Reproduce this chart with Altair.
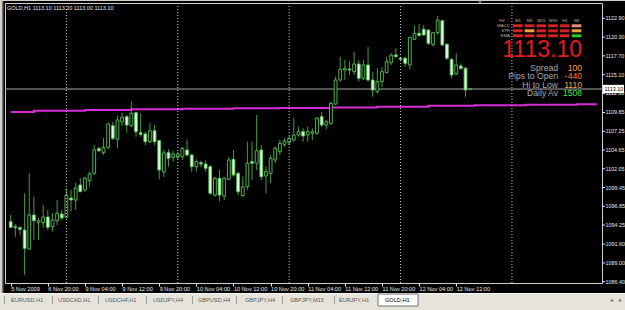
import altair as alt
import pandas as pd

# ---------------- data ----------------
opens = [1094.71, 1094.02, 1093.88, 1093.56, 1090.93, 1095.64, 1094.58, 1094.58, 1095.37, 1094.02,
         1094.85, 1095.78, 1095.33, 1098.00, 1097.72, 1099.80, 1099.11, 1100.40, 1101.42, 1104.83,
         1104.28, 1105.02, 1108.02, 1106.13, 1108.57, 1109.27, 1107.98, 1109.82, 1107.05, 1106.87,
         1105.80, 1107.32, 1105.94, 1101.60, 1104.28, 1103.64, 1103.64, 1103.72, 1104.65, 1103.96,
         1102.34, 1102.89, 1102.71, 1102.34, 1098.41, 1100.73, 1098.27, 1100.59, 1103.36, 1101.42,
         1098.34, 1099.57, 1103.03, 1102.81, 1104.65, 1101.05, 1101.42, 1103.27, 1104.42, 1105.44,
         1105.66, 1106.03, 1106.73, 1107.19, 1106.73, 1106.97, 1106.97, 1109.27, 1108.11, 1108.35,
         1111.02, 1114.35, 1115.74, 1115.87, 1115.50, 1116.57, 1114.58, 1116.43, 1114.35, 1112.73,
         1114.12, 1115.36, 1116.75, 1117.81, 1117.36, 1117.36, 1116.43, 1119.99, 1120.82, 1121.38,
         1121.28, 1119.30, 1120.91, 1122.57, 1119.30, 1117.22, 1115.18, 1116.29, 1115.97, 1113.10]
highs = [1095.64, 1094.39, 1094.12, 1098.65, 1101.42, 1098.18, 1095.23, 1097.03, 1096.34, 1095.92,
         1097.72, 1096.34, 1099.39, 1099.11, 1100.08, 1100.77, 1100.95, 1101.65, 1105.34, 1105.07,
         1106.31, 1108.43, 1108.57, 1109.36, 1109.82, 1109.50, 1111.34, 1109.96, 1109.74, 1107.19,
         1108.43, 1108.11, 1106.03, 1104.65, 1104.75, 1104.55, 1104.42, 1105.02, 1106.13, 1104.10,
         1103.36, 1103.17, 1103.17, 1102.57, 1100.95, 1101.88, 1100.95, 1103.72, 1104.65, 1101.65,
         1100.95, 1105.80, 1105.80, 1109.50, 1105.34, 1102.34, 1103.96, 1105.11, 1106.03, 1106.27,
         1106.59, 1109.04, 1107.88, 1107.66, 1107.88, 1107.66, 1109.27, 1109.96, 1108.81, 1111.34,
         1114.81, 1117.58, 1117.12, 1116.89, 1118.27, 1117.12, 1117.12, 1118.96, 1115.50, 1115.97,
         1116.11, 1117.58, 1118.05, 1118.74, 1117.58, 1117.58, 1120.35, 1121.83, 1122.11, 1121.97,
         1121.38, 1121.05, 1123.22, 1122.66, 1119.44, 1117.36, 1118.05, 1116.66, 1116.19, 1113.20]
lows = [1093.84, 1092.63, 1092.87, 1087.33, 1090.79, 1092.18, 1092.18, 1093.84, 1093.56, 1093.33,
        1094.26, 1094.95, 1095.23, 1096.10, 1096.34, 1098.83, 1098.87, 1099.57, 1101.19, 1104.37,
        1103.96, 1104.75, 1106.03, 1104.89, 1107.98, 1107.05, 1107.88, 1106.49, 1106.49, 1105.34,
        1105.58, 1105.34, 1100.59, 1100.91, 1102.34, 1103.03, 1103.27, 1103.27, 1103.72, 1101.65,
        1101.65, 1102.25, 1101.65, 1098.41, 1098.18, 1097.49, 1097.72, 1100.49, 1100.95, 1098.41,
        1098.18, 1099.11, 1100.49, 1101.88, 1100.49, 1098.65, 1100.04, 1102.81, 1103.96, 1105.11,
        1105.34, 1105.80, 1106.49, 1105.80, 1105.80, 1106.03, 1106.73, 1107.88, 1107.52, 1108.11,
        1110.89, 1114.12, 1114.35, 1115.04, 1115.04, 1114.12, 1114.35, 1114.12, 1112.03, 1112.50,
        1113.42, 1115.28, 1116.43, 1117.47, 1116.98, 1116.19, 1115.83, 1119.89, 1120.35, 1120.45,
        1119.20, 1118.96, 1120.59, 1119.07, 1117.12, 1114.58, 1115.04, 1115.74, 1112.03, 1113.00]
closes = [1093.94, 1093.88, 1093.66, 1091.03, 1095.64, 1094.85, 1094.85, 1095.37, 1093.94, 1094.95,
          1095.88, 1095.23, 1098.41, 1097.72, 1099.39, 1098.87, 1100.77, 1101.33, 1104.65, 1104.55,
          1105.02, 1108.25, 1106.27, 1108.81, 1109.18, 1108.11, 1109.74, 1107.19, 1106.82, 1105.80,
          1107.32, 1105.80, 1101.88, 1104.24, 1103.50, 1104.10, 1104.06, 1104.89, 1103.96, 1102.34,
          1103.03, 1102.71, 1102.11, 1098.65, 1100.73, 1098.41, 1100.73, 1103.27, 1101.19, 1098.87,
          1099.52, 1102.81, 1102.81, 1104.55, 1100.95, 1101.65, 1103.50, 1104.89, 1105.58, 1105.90,
          1106.27, 1106.73, 1107.19, 1106.59, 1107.19, 1107.19, 1109.04, 1108.11, 1108.57, 1111.12,
          1114.35, 1115.83, 1115.97, 1115.74, 1116.57, 1114.58, 1116.43, 1114.35, 1112.96, 1114.12,
          1115.50, 1116.89, 1117.81, 1117.58, 1117.22, 1116.66, 1120.27, 1120.82, 1120.54, 1120.59,
          1119.44, 1120.91, 1122.66, 1119.20, 1117.36, 1115.04, 1116.43, 1115.97, 1112.96, 1113.10]

time_labels = ["5 Nov 2009", "6 Nov 20:00", "9 Nov 04:00", "9 Nov 12:00", "9 Nov 20:00",
               "10 Nov 04:00", "10 Nov 12:00", "10 Nov 20:00", "11 Nov 04:00", "11 Nov 12:00",
               "11 Nov 20:00", "12 Nov 04:00", "12 Nov 12:00"]
label_step = 8
grid_bars = [12, 36, 60, 84, 108]
price_ticks = [1122.90, 1120.30, 1117.70, 1115.10, 1112.50, 1109.85, 1107.25, 1104.65,
               1102.05, 1099.45, 1096.85, 1094.25, 1091.60, 1089.00, 1086.40]

ma_bars = [0, 5, 16, 26, 37, 48, 58, 69, 79, 90, 100, 111, 122, 126.3]
ma_vals = [1109.91, 1110.08, 1110.18, 1110.28, 1110.36, 1110.43, 1110.48, 1110.55, 1110.66,
           1110.77, 1110.86, 1110.91, 1110.98, 1110.98]

bid = 1113.10
header = "GOLD,H1  1113.10 1113.20 1113.00 1113.10"
tabs = ["EURUSD,H1", "USDCAD,H1", "USDCHF,H1", "USDJPY,H4", "GBPUSD,H4",
        "GBPJPY,H4", "GBPJPY,M15", "EURJPY,H1", "GOLD,H1"]
active_tab = "GOLD,H1"

panel_cols = ["M1", "M5", "M15", "M30", "H1", "H4"]
panel_rows = ["MACD", "STR", "EMA"]
RED, SAL, ORA, GRN = "#d42222", "#f08a78", "#e8a43a", "#28c828"
panel_colors = [[RED, RED, RED, RED, RED, SAL],
                [RED, ORA, RED, RED, RED, ORA],
                [RED, RED, RED, RED, RED, GRN]]
info_labels = ["Spread", "Pips to Open", "Hi to Low", "Daily Av"]
info_values = ["100", "-440", "1110", "1508"]
info_colors = ["#f4a45c", "#f47c3c", "#f4a040", "#3ce83c"]

# ---------------- layout ----------------
W, H = 597, 280
FONT = "Liberation Sans"
xs = alt.Scale(domain=[-0.15, 126.33], nice=False, zero=False)
ys = alt.Scale(domain=[1086.22, 1125.02], nice=False, zero=False)

df = pd.DataFrame({"i": list(range(len(opens))), "o": opens, "h": highs, "l": lows, "c": closes})
df["top"] = df[["o", "c"]].max(axis=1)
df["bot"] = df[["o", "c"]].min(axis=1)
df["fill"] = ["#000000" if c >= o else "#e2fae2" for o, c in zip(df.o, df.c)]

label_js = "[" + ",".join("'%s'" % t for t in time_labels) + "]"
xaxis = alt.Axis(values=[k * label_step for k in range(len(time_labels))],
                 labelExpr=label_js + "[round(datum.value/%d)]" % label_step,
                 orient="bottom", domain=False, grid=False, tickSize=3, tickColor="#e8e8e8",
                 labelColor="#e8e8e8", labelFontSize=5.6, labelFont=FONT, labelAlign="left",
                 labelPadding=0, labelOverlap=False, labelBound=False, labelFlush=False,
                 title=None)

one = pd.DataFrame({"k": [0]})


def txt(s, x, y, size=5.5, color="#e8e8e8", align="left", baseline="middle"):
    return alt.Chart(one).mark_text(text=s, align=align, baseline=baseline, fontSize=size,
                                    color=color, font=FONT).encode(x=alt.value(x), y=alt.value(y))


def box(x0, x1, y0, y1, fill, stroke=None):
    kw = dict(fill=fill)
    if stroke:
        kw.update(stroke=stroke, strokeWidth=1)
    return alt.Chart(one).mark_rect(**kw).encode(
        x=alt.value(x0), x2=alt.value(x1), y=alt.value(y0), y2=alt.value(y1))


def Y(field):
    return alt.Y(field, scale=ys, axis=None)


base = alt.Chart(df)
magenta = alt.Chart(pd.DataFrame({"b": ma_bars, "v": ma_vals})).mark_line(
    interpolate="step-after", color="#d62ed6", strokeWidth=2
).encode(x=alt.X("b:Q", scale=xs, axis=xaxis), y=Y("v:Q"))
bidline = alt.Chart(pd.DataFrame({"p": [bid]})).mark_rule(color="#a8a8a8", strokeWidth=1).encode(
    y=Y("p:Q"))
wicks = base.mark_rule(color="#3f9f3f", strokeWidth=1).encode(
    x=alt.X("i:Q", scale=xs), y=Y("l:Q"), y2="h:Q")
bodies = base.mark_bar(size=2.8, stroke="#58c458", strokeWidth=0.9).encode(
    x=alt.X("i:Q", scale=xs), y=Y("top:Q"), y2="bot:Q",
    fill=alt.Color("fill:N", scale=None))
grid = alt.Chart(pd.DataFrame({"g": grid_bars})).mark_rule(
    color="#c8c8c8", strokeWidth=1, strokeDash=[1, 2]).encode(x=alt.X("g:Q", scale=xs))

# price scale on the right, drawn from the tick values
pt = alt.Chart(pd.DataFrame({"p": price_ticks}))
yticks = pt.mark_rule(color="#e8e8e8", strokeWidth=1).encode(
    x=alt.value(597), x2=alt.value(600), y=Y("p:Q"))
ylabels = pt.mark_text(align="left", baseline="middle", fontSize=5.4, color="#e8e8e8",
                       font=FONT).encode(x=alt.value(600.5), y=Y("p:Q"),
                                         text=alt.Text("p:Q", format=".2f"))

layers = [magenta, bidline, wicks, bodies, grid, yticks, ylabels]

# price box on axis
layers.append(alt.Chart(pd.DataFrame({"p": [bid + 0.58], "q": [bid - 0.58]})).mark_rect(
    fill="white").encode(x=alt.value(598), x2=alt.value(619), y=Y("p:Q"), y2="q:Q"))
layers.append(alt.Chart(pd.DataFrame({"p": [bid]})).mark_text(
    text="%.2f" % bid, align="left", baseline="middle", fontSize=5.4, color="black", font=FONT
).encode(x=alt.value(599.5), y=Y("p:Q")))

# window frame pieces (left and top edges)
layers.append(box(-5, -2.4, -3, 290, "#d4d0c8"))
layers.append(box(-2.4, -1.4, -3, 290, "#5a5a5a"))
layers.append(box(-5, 620, -3, -2, "#d4d0c8"))

# header text and chart-shift mark
layers.append(txt(header, 2, 4.5))
layers.append(txt("\u25bc", 475, -1, size=5, color="#909090", align="center"))

# indicator panel
layers.append(txt("H4", 497, 17.7, size=4.4, color="#b0b0b0", align="center"))
for ci, name in enumerate(panel_cols):
    layers.append(txt(name, 513 + ci * 11.75, 17.7, size=4.4, color="#b0b0b0", align="center"))
for ri, name in enumerate(panel_rows):
    layers.append(txt(name, 505, 22.8 + ri * 5, size=4.4, color="#b0b0b0", align="right"))
    for ci in range(len(panel_cols)):
        x0 = 508 + ci * 11.75
        y0 = 21.3 + ri * 5
        layers.append(box(x0, x0 + 9.6, y0, y0 + 3, panel_colors[ri][ci]))
layers.append(txt("%.2f" % bid, 577, 54.3, size=23, color="#e51c1c", align="right",
                  baseline="alphabetic"))
for k, (lab, val, col) in enumerate(zip(info_labels, info_values, info_colors)):
    yb = 67.9 + k * 8.4
    layers.append(txt(lab, 553, yb, size=8.6, color="#a8a8a8", align="right",
                      baseline="alphabetic"))
    layers.append(txt(val, 577, yb, size=8.6, color=col, align="right", baseline="alphabetic"))

# tab strip
layers.append(box(-5, 620, 290, 307, "#e6e3da"))
layers.append(box(-5, 620, 290, 291, "#f8f8f8"))
tab_x = [6, 53, 100, 148, 193, 240, 285, 334, 380]
sep_x = [-1, 47, 93, 141, 187, 231, 277, 329]
for sx in sep_x:
    layers.append(box(sx, sx + 0.8, 293, 301, "#8c8c8c"))
layers.append(box(373, 413, 291, 303, "#ffffff", stroke="#707070"))
for name, tx in zip(tabs, tab_x):
    layers.append(txt(name, tx, 297, size=5.6,
                      color="#000000" if name == active_tab else "#5a5a5a"))
layers.append(txt("\u25c2", 606, 297, size=5.5, color="#707070", align="center"))
layers.append(txt("\u25b8", 615, 297, size=5.5, color="#707070", align="center"))

chart = alt.layer(*layers).properties(
    width=W, height=H,
    padding={"left": 5, "top": 3, "right": 23, "bottom": 27},
    autosize=alt.AutoSizeParams(type="none"),
).configure(background="black").configure_view(
    stroke="#cfcfcf", strokeWidth=1, fill="black"
).configure_axis(labelOverlap=False, labelBound=False, labelFlush=False)

chart.save("out.html", embed_options={"renderer": "svg", "actions": False})
